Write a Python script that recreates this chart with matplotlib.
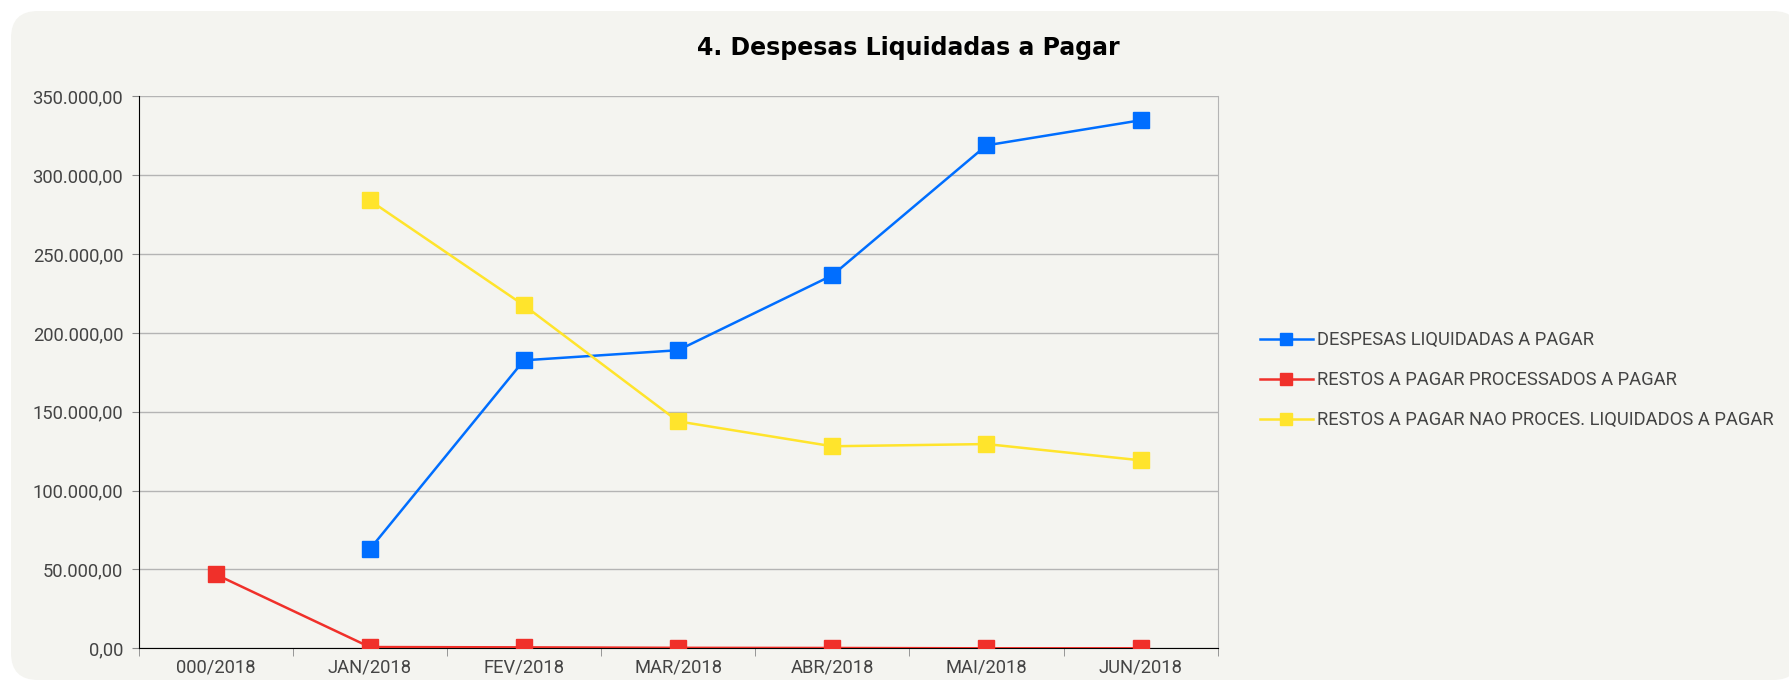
import matplotlib
matplotlib.use('Agg')
import matplotlib.pyplot as plt
import numpy as np
from matplotlib.patches import FancyBboxPatch
from matplotlib.ticker import FuncFormatter, FixedLocator

# data
months = ['000/2018', 'JAN/2018', 'FEV/2018', 'MAR/2018', 'ABR/2018', 'MAI/2018', 'JUN/2018']
despesas = [np.nan, 62800, 182600, 189000, 236500, 318900, 334800]
restos_proc = [46900, 800, 600, 300, 200, 0, 0]
restos_nao_proc = [np.nan, 284000, 217500, 143900, 128100, 129500, 119200]

series_names = ['DESPESAS LIQUIDADAS A PAGAR',
                'RESTOS A PAGAR PROCESSADOS A PAGAR',
                'RESTOS A PAGAR NAO PROCES. LIQUIDADOS A PAGAR']
colors = ['#006eff', '#f0302a', '#ffe42c']

plt.rcParams['font.family'] = ['Roboto', 'DejaVu Sans']

W, H = 1789, 687
fig = plt.figure(figsize=(W / 100, H / 100), dpi=100)
fig.patch.set_facecolor('white')

# rounded background panel (in inches, so corners stay round)
panel = FancyBboxPatch((0.11, 0.07), 17.89, 6.69,
                       boxstyle='round,pad=0,rounding_size=0.27',
                       transform=fig.dpi_scale_trans, facecolor='#f4f4f0',
                       edgecolor='none', zorder=-10)
fig.patches.append(panel)

ax = fig.add_axes([138.5 / W, 1 - 648.3 / H, (1217.7 - 138.5) / W, (648.3 - 96.3) / H])
ax.set_facecolor('#f4f4f0')

x = np.arange(len(months))
for vals, name, c in zip([despesas, restos_proc, restos_nao_proc], series_names, colors):
    ax.plot(x, vals, color=c, linewidth=1.8, marker='s', markersize=12,
            label=name, zorder=3)

ax.set_xlim(-0.5, len(months) - 0.5)
ax.set_ylim(0, 350000)
ax.set_yticks(np.arange(0, 350001, 50000))
ax.yaxis.set_major_formatter(FuncFormatter(
    lambda v, p: '{:,.2f}'.format(v).replace(',', 'X').replace('.', ',').replace('X', '.')))
ax.grid(axis='y', color='#b4b4b4', linewidth=1)
ax.set_axisbelow(True)

ax.set_xticks(x)
ax.set_xticklabels(months)
ax.tick_params(axis='x', which='major', length=0, pad=7, labelsize=13.2, colors='#444444')
ax.xaxis.set_minor_locator(FixedLocator(np.arange(-0.5, len(months), 1)))
ax.tick_params(axis='x', which='minor', length=6, color='#888888')
ax.tick_params(axis='y', length=5, pad=6, color='#888888', labelsize=13.2, labelcolor='#444444')

ax.spines['top'].set_visible(False)
ax.spines['right'].set_color('#b4b4b4')
ax.spines['left'].set_color('black')
ax.spines['bottom'].set_color('black')

fig.text(908 / W, 1 - 48 / H, '4. Despesas Liquidadas a Pagar', ha='center', va='center',
         fontsize=17, fontweight='bold', color='black', family='DejaVu Sans')

leg = ax.legend(loc='center left', bbox_to_anchor=(1243 / W, 1 - 380 / H),
                bbox_transform=fig.transFigure, frameon=False,
                prop={'size': 13.2},
                markerscale=0.7, handlelength=2.9, handletextpad=0.25,
                labelspacing=1.2, labelcolor='#444444')

fig.savefig('out.png', dpi=100, facecolor=fig.get_facecolor())
